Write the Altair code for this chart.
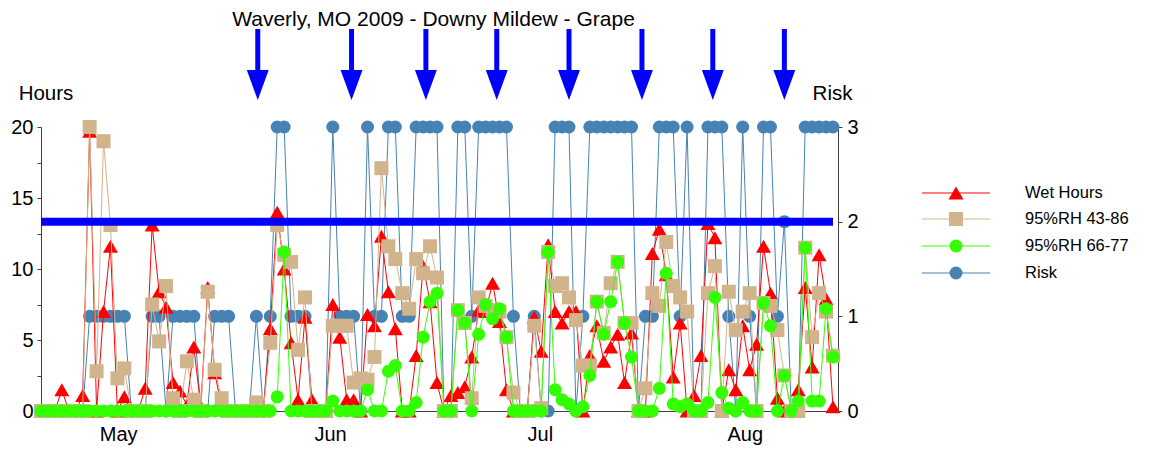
import altair as alt
import pandas as pd

# ---------------- data ----------------
days = list(range(115))

wet_hours = [
    0, 0, 0, 1.5, 0, 0, 1.1, 19.7, 0, 7.0,
    11.6, 0, 1.0, 0, 0, 1.6, 13.1, 8.4, 7.3, 2.0,
    1.4, 0.4, 4.5, 0.3, 8.7, 2.7, 0.3, 0, 0, 0,
    0, 0, 0, 5.8, 14.0, 10.0, 4.8, 0.8, 6.6, 0.8,
    0, 0, 7.5, 5.2, 0.8, 0.8, 0, 6.8, 6.0, 12.3,
    8.4, 5.8, 0, 0, 3.9, 10.2, 7.7, 2.0, 0, 1.1,
    1.3, 1.7, 3.8, 7.1, 7.0, 9.0, 6.3, 1.5, 0, 0,
    0, 6.6, 4.2, 11.7, 7.0, 6.2, 7.0, 7.0, 0, 3.9,
    6.0, 3.5, 4.5, 5.4, 2.0, 5.5, 0, 0, 11.1, 12.8,
    9.6, 2.4, 6.2, 0, 1.1, 3.9, 13.2, 12.2, 0, 2.9,
    1.5, 6.0, 2.9, 4.7, 11.6, 8.3, 0.9, 0, 0, 1.5,
    8.7, 3.1, 11.0, 7.9, 0.3,
]

rh_43_86 = [
    0, 0, 0, 0, 0, 0, 0, 20.0, 2.8, 19.0,
    13.1, 2.3, 3.0, 0, 0, 0, 7.5, 4.9, 8.8, 0.9,
    0, 3.5, 0.8, 0, 8.4, 2.9, 0.9, 0, 0, 0,
    0, 0.6, 0, 4.8, 13.1, 11.0, 10.5, 4.3, 8.0, 0,
    0, 0, 6.0, 6.0, 6.0, 2.0, 2.3, 2.2, 3.8, 17.1,
    11.6, 10.7, 8.3, 7.2, 10.7, 9.7, 11.6, 9.4, 0, 0,
    7.1, 6.2, 0.9, 8.0, 7.4, 7.1, 7.0, 5.2, 1.3, 0,
    0, 6.0, 0.2, 11.2, 8.8, 9.0, 8.0, 6.4, 3.2, 3.2,
    7.7, 5.5, 9.0, 10.5, 6.2, 6.2, 0, 1.6, 8.3, 7.4,
    11.9, 8.8, 8.0, 7.0, 0, 0, 8.3, 10.2, 0, 8.4,
    5.7, 7.0, 8.3, 0, 7.6, 7.4, 5.7, 2.5, 0, 0,
    11.5, 5.2, 8.3, 7.0, 3.9,
]

rh_66_77 = [
    0, 0, 0, 0, 0, 0, 0, 0, 0, 0,
    0, 0, 0, 0, 0, 0, 0, 0, 0, 0,
    0, 0, 0, 0, 0, 0, 0, 0, 0, 0,
    0, 0, 0, 0, 1.0, 11.2, 0, 0, 0, 0,
    0, 0, 0.7, 0, 0, 0, 0, 1.5, 0, 0,
    2.8, 3.2, 0, 0, 0.6, 5.2, 7.7, 8.3, 0, 0,
    7.1, 6.2, 0, 5.4, 7.5, 6.5, 7.2, 5.2, 0, 0,
    0, 0, 0, 11.2, 1.5, 0.8, 0.5, 0, 0.3, 2.5,
    7.7, 5.4, 7.7, 10.5, 6.2, 3.8, 0, 0, 0, 1.6,
    9.7, 0.5, 0.3, 0.5, 0, 0, 0.6, 8.0, 1.3, 0.2,
    0, 0.6, 0, 0, 7.6, 6.0, 0, 2.5, 0, 0.7,
    11.5, 0.7, 0.7, 7.2, 3.8,
]

risk = [
    0, 0, 0, 0, 0, 0, 0, 1, 1, 1,
    1, 1, 1, 0, 0, 0, 1, 1, 0, 1,
    1, 1, 1, 0, 0, 1, 1, 1, 0, 0,
    0, 1, 0, 1, 3, 3, 1, 1, 1, 0,
    0, 0, 3, 1, 1, 1, 0, 3, 1, 1,
    3, 3, 1, 1, 3, 3, 3, 3, 0, 0,
    3, 3, 1, 3, 3, 3, 3, 3, 1, 0,
    0, 1, 0, 0, 3, 3, 3, 0, 1, 3,
    3, 3, 3, 3, 3, 3, 0, 1, 1, 3,
    3, 3, 1, 3, 0, 0, 3, 3, 3, 1,
    0, 3, 1, 0, 3, 3, 1, 2, 0, 0,
    3, 3, 3, 3, 3,
]

spray_days = [31.2, 44.7, 55.4, 65.6, 76.0, 86.5, 96.7, 107.0]
risk_threshold = 2
threshold_span = [0, 114]

month_names = ["May", "Jun", "Jul", "Aug"]
month_pos = [11.1, 41.6, 71.8, 101.3]

hours_ticks = [0, 2.5, 5, 7.5, 10, 12.5, 15, 17.5, 20]
risk_ticks = [0, 0.5, 1, 1.5, 2, 2.5, 3]

chart_title = "Waverly, MO 2009 - Downy Mildew - Grape"
series_names = ["Wet Hours", "95%RH 43-86", "95%RH 66-77", "Risk"]
series_colors = ["#FF0000", "#D2B48C", "#33FF00", "#4682B4"]
series_shapes = ["triangle-up", "square", "circle", "circle"]
series_sizes = [225, 196, 169, 169]

# ---------------- chart ----------------
df = pd.DataFrame({"day": days, "wet": wet_hours, "rh_a": rh_43_86,
                   "rh_b": rh_66_77, "risk": risk})

FONT = "Liberation Sans"
W, H = 797, 284
X_MAX = 114.72
AXIS_COLOR = "#404040"

x_scale = alt.Scale(domain=[0, X_MAX], nice=False, zero=False)
label_expr = ("[" + ",".join(f"'{m}'" for m in month_names) + "][indexof(["
              + ",".join(str(p) for p in month_pos) + "], datum.value)]")
x_axis = alt.Axis(values=month_pos, labelExpr=label_expr, title=None, ticks=False,
                  grid=False, domainColor=AXIS_COLOR, labelFontSize=20, labelPadding=13,
                  labelFont=FONT, labelColor="black", labelOverlap=False, labelFlush=False)


def X(field="day"):
    return alt.X(f"{field}:Q", scale=x_scale, axis=x_axis)


hours_scale = alt.Scale(domain=[0, 20], nice=False, zero=True)
risk_scale = alt.Scale(domain=[0, 3], nice=False, zero=True)

hours_axis = alt.Axis(orient="left", values=hours_ticks, format="d",
                      labelExpr="datum.value % 5 == 0 ? datum.label : ''",
                      title="Hours", titleAngle=0, titleAlign="center", titleBaseline="middle",
                      titleX=4.5, titleY=-34, titleFontSize=20.5, titleFontWeight="normal",
                      titleFont=FONT, titleColor="black", labelFont=FONT, labelFontSize=20,
                      labelColor="black", tickSize=4, tickColor=AXIS_COLOR,
                      domainColor=AXIS_COLOR, grid=False, labelPadding=4, labelOverlap=False)
risk_axis = alt.Axis(orient="right", values=risk_ticks, format="d",
                     labelExpr="datum.value % 1 == 0 ? datum.label : ''",
                     title="Risk", titleAngle=0, titleAlign="center", titleBaseline="middle",
                     titleX=-6, titleY=-34, titleFontSize=20.5, titleFontWeight="normal",
                     titleFont=FONT, titleColor="black", labelFont=FONT, labelFontSize=20,
                     labelColor="black", tickSize=4, tickColor=AXIS_COLOR,
                     domainColor=AXIS_COLOR, grid=False, labelPadding=5, labelOverlap=False)


def series_layers(field, color, shape, size, scale, axis):
    y = alt.Y(f"{field}:Q", scale=scale, axis=axis)
    line = alt.Chart(df).mark_line(color=color, strokeWidth=1).encode(x=X(), y=y)
    pts = alt.Chart(df).mark_point(shape=shape, filled=True, size=size, color=color,
                                   opacity=1, strokeWidth=0).encode(x=X(), y=y)
    return [line, pts]


risk_group = alt.layer(*series_layers("risk", series_colors[3], series_shapes[3],
                                      series_sizes[3], risk_scale, risk_axis))
hours_group = alt.layer(
    *series_layers("wet", series_colors[0], series_shapes[0], series_sizes[0], hours_scale, hours_axis),
    *series_layers("rh_a", series_colors[1], series_shapes[1], series_sizes[1], hours_scale, hours_axis),
    *series_layers("rh_b", series_colors[2], series_shapes[2], series_sizes[2], hours_scale, hours_axis),
)

thr_df = pd.DataFrame({"start": [threshold_span[0]], "end": [threshold_span[1]],
                       "level": [risk_threshold]})
threshold = alt.Chart(thr_df).mark_rule(color="#0000FF", strokeWidth=8).encode(
    x=X("start"), x2="end:Q",
    y=alt.Y("level:Q", scale=risk_scale, axis=None))

arrow_df = pd.DataFrame({"day": spray_days})
arrow_shaft = alt.Chart(arrow_df).mark_rule(color="#0000FF", strokeWidth=5).encode(
    x=X(), y=alt.value(-98), y2=alt.value(-55))
arrow_head = alt.Chart(arrow_df).mark_point(
    shape="M-0.73,-1L0.73,-1L0,1Z", filled=True, size=900, color="#0000FF",
    opacity=1, strokeWidth=0).encode(x=X(), y=alt.value(-42))

title_layer = alt.Chart(pd.DataFrame({"t": [chart_title]})).mark_text(
    font=FONT, fontSize=21, align="center", baseline="middle", color="black"
).encode(text="t:N", x=alt.value(392.5), y=alt.value(-107))

legend_layers = []
legend_y = [66, 92, 119, 146]
for name, color, shape, size, ly in zip(series_names, series_colors, series_shapes,
                                        series_sizes, legend_y):
    ldf = pd.DataFrame({"n": [name]})
    legend_layers.append(alt.Chart(ldf).mark_rule(color=color, strokeWidth=1).encode(
        x=alt.value(881), x2=alt.value(949), y=alt.value(ly)))
    legend_layers.append(alt.Chart(ldf).mark_point(
        shape=shape, filled=True, size=size, color=color, opacity=1, strokeWidth=0
    ).encode(x=alt.value(915), y=alt.value(ly)))
    legend_layers.append(alt.Chart(ldf).mark_text(
        font=FONT, fontSize=16.5, align="left", baseline="middle", color="black"
    ).encode(text="n:N", x=alt.value(984), y=alt.value(ly)))

chart = alt.layer(
    risk_group, hours_group, threshold, arrow_shaft, arrow_head, title_layer, *legend_layers
).resolve_scale(y="independent").properties(
    width=W, height=H,
    autosize=alt.AutoSizeParams(type="none"),
    padding={"left": 33, "top": 119, "right": 318, "bottom": 35},
    background="white",
).configure_view(stroke=None)

chart.save("out.html", embed_options={"renderer": "svg", "actions": False})
